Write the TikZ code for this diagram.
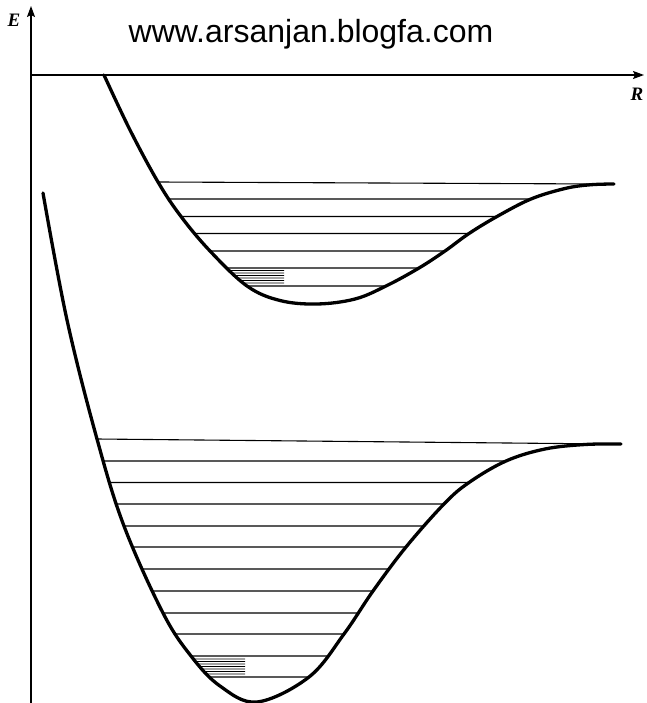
\documentclass[tikz,border=0pt]{standalone}
\usepackage{fontspec}
\newfontfamily\webfont{Liberation Sans}
\newfontfamily\lblfont{Liberation Serif}
\newcommand{\axlabel}[1]{{\lblfont\fontsize{19}{19}\selectfont\bfseries\itshape #1}}
\usetikzlibrary{arrows.meta,intersections}
\begin{document}
\begin{tikzpicture}[x=1pt,y=-1pt,
  axisline/.style={line width=1.6pt, -{Stealth[length=11pt,width=8pt,inset=2pt]}},
  pot/.style={line width=3.3pt, line cap=round},
  lev/.style={line width=1.1pt},
  hat/.style={line width=0.6pt},
  lbl/.style={inner sep=0pt}]
\useasboundingbox (0,0) rectangle (646,703);
% axes
\draw[axisline] (31,703) -- (31,6);
\draw[axisline] (31,75) -- (644,75);
\node[lbl] (E) at (14,20) {\axlabel{E}};
\node[lbl] (R) at (637,94) {\axlabel{R}};
\node[font=\webfont\fontsize{32}{32}\selectfont, anchor=base, inner sep=0pt] (web) at (311,43) {www.arsanjan.blogfa.com};
% upper potential
\draw[pot, name path=upper] plot[smooth, tension=0.6] coordinates {
  (104,75) (130,130) (158,182) (181,216.5) (210,251) (247,286) (280,300.5) (317,304)
  (355,299) (386,286) (419,268) (445,251) (469,233.5) (497,216.5) (531,199)
  (565,188.5) (590,184.8) (614,184)};
\draw[lev] (158,182) -- (600,184);
\foreach \yy in {199,216.5,233.5,251,268,286}{
  \path[name path=hl] (40,\yy) -- (640,\yy);
  \draw[lev, name intersections={of=upper and hl}] (intersection-1) -- (intersection-2);
}
\foreach \yy in {270.5,273,275.5,278,280.5,283}{
  \path[name path=hh] (40,\yy) -- (284,\yy);
  \draw[hat, name intersections={of=upper and hh}] (intersection-1) -- (284,\yy);
}
% lower potential
\draw[pot, name path=lower] plot[smooth, tension=0.6] coordinates {
  (43,193) (67,320) (97,439) (124,526) (163,613) (191,656)
  (220,686) (257,702) (309,677) (344,634) (373,591) (406,547) (444,504)
  (469,482.5) (506,461) (545,449) (585,444.5) (621,444)};
\draw[lev] (97,439) -- (610,444);
\foreach \yy in {461,482.5,504,526,547,569,591,613,634,656,677}{
  \path[name path=hl] (40,\yy) -- (640,\yy);
  \draw[lev, name intersections={of=lower and hl}] (intersection-1) -- (intersection-2);
}
\foreach \yy in {659,661.5,664,666.5,669,671.5,674}{
  \path[name path=hh] (40,\yy) -- (245,\yy);
  \draw[hat, name intersections={of=lower and hh}] (intersection-1) -- (245,\yy);
}
\end{tikzpicture}
\end{document}
